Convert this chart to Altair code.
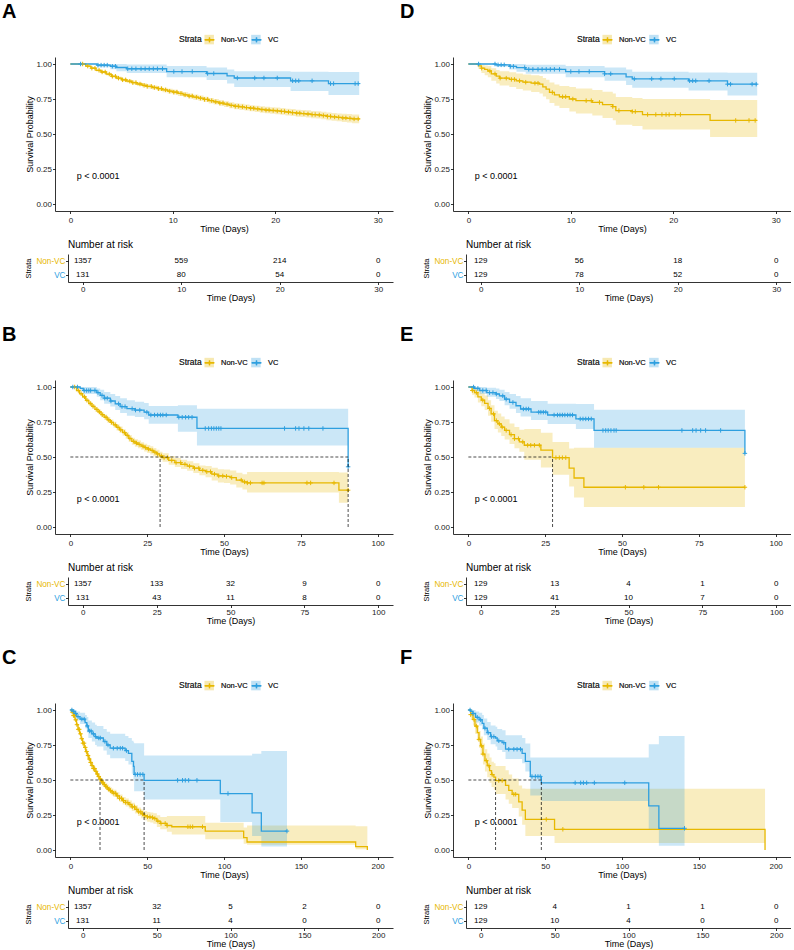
import altair as alt
import pandas as pd

FONT = "Liberation Sans"
YEL = "#E7B800"
BLU = "#2E9FDF"
GROUPS = ["Non-VC", "VC"]
PLUS = "M-1,0L1,0M0,-1L0,1"
KEY = "M-1,0L1,0M0,-0.5L0,0.5"

PLOT_W = 338
PLOT_H = 154
TAB_ROWS_H = 28
TAB_GAP = 55

# ---------------- data ----------------
TICKS_28 = [0, 10, 20, 30]
TICKS_90 = [0, 25, 50, 75, 100]
TICKS_ALL = [0, 50, 100, 150, 200]

# Panel A
A_NV_T = [0, 1, 1.5, 2, 2.5, 3, 3.5, 4, 4.5, 5, 5.5, 6, 6.5, 7, 7.5, 8, 8.5, 9, 9.5, 10, 10.5, 11, 11.5, 12, 12.5, 13, 13.5, 14, 14.5, 15, 15.5, 16, 16.5, 17, 17.5, 18, 18.5, 19, 19.5, 20, 20.5, 21, 21.5, 22, 22.5, 23, 23.5, 24, 24.5, 25, 25.5, 26, 26.5, 27, 27.5, 28.2]
A_NV_S = [1, 1, .985, .970, .955, .943, .928, .912, .899, .887, .877, .867, .857, .848, .840, .832, .824, .815, .806, .799, .790, .780, .771, .763, .756, .747, .738, .730, .721, .713, .705, .698, .694, .689, .684, .680, .675, .671, .668, .665, .661, .657, .653, .649, .646, .643, .639, .636, .632, .626, .622, .619, .615, .612, .608, .603]
A_NV_LO = [1, 1, .981, .964, .947, .934, .918, .901, .887, .875, .864, .854, .843, .834, .825, .817, .808, .799, .789, .782, .772, .762, .753, .744, .737, .728, .718, .710, .701, .692, .684, .677, .672, .667, .662, .658, .652, .648, .645, .641, .637, .633, .628, .624, .621, .617, .613, .610, .605, .599, .594, .591, .586, .582, .577, .571]
A_NV_HI = [1, 1, .989, .976, .963, .952, .938, .923, .911, .899, .890, .880, .871, .862, .855, .847, .840, .831, .823, .816, .808, .798, .789, .782, .775, .766, .758, .750, .741, .734, .726, .719, .716, .711, .706, .702, .698, .694, .691, .689, .685, .681, .678, .674, .671, .669, .665, .662, .659, .653, .650, .647, .644, .642, .639, .635]
A_NV_CENS = [1.2, 1.7, 2.1, 2.4, 2.8, 3.1, 3.4, 3.8, 4.1, 4.4, 4.7, 5.1, 5.4, 5.8, 6.1, 6.4, 6.8, 7.2, 7.5, 7.9, 8.2, 8.6, 8.9, 9.3, 9.7, 10.1, 10.4, 10.8, 11.2, 11.6, 11.9, 12.3, 12.7, 13.1, 13.4, 13.8, 14.2, 14.6, 14.9, 15.3, 15.7, 16.1, 16.4, 16.8, 17.2, 17.6, 17.9, 18.3, 18.7, 19.1, 19.4, 19.8, 20.2, 20.6, 20.9, 21.3, 21.7, 22.1, 22.4, 22.8, 23.2, 23.6, 23.9, 24.3, 24.7, 25.1, 25.4, 25.8, 26.2, 26.6, 26.9, 27.3, 27.7, 28.1]
A_VC_T = [0, 2.6, 3.9, 4.5, 5.5, 9.4, 13.3, 15.3, 16.0, 21.5, 25.2, 28.2]
A_VC_S = [1, .992, .984, .975, .966, .946, .932, .915, .900, .880, .860, .860]
A_VC_LO = [1, .977, .962, .948, .935, .905, .885, .86, .835, .807, .779, .779]
A_VC_HI = [1, 1, 1, 1, .997, .985, .975, .96, .948, .945, .943, .943]
A_VC_CENS = [1.0, 2.7, 3.0, 3.3, 3.6, 4.1, 4.4, 5.6, 6.0, 6.4, 6.9, 7.3, 7.7, 8.1, 8.5, 9.0, 10.1, 10.9, 11.9, 13.4, 14.0, 16.3, 18.0, 18.9, 20.2, 21.7, 22.0, 22.3, 23.6, 25.4, 25.7, 27.8, 28.1]
A_MED = []
A_RISK_NV = [1357, 559, 214, 0]
A_RISK_VC = [131, 80, 54, 0]

# Panel B
B_NV_T = [0, 1, 2, 3, 4, 5, 6, 7, 8, 9, 10, 11, 12, 13, 14, 15, 16, 17, 18, 19, 20, 21, 22, 23, 24, 25, 26, 27, 28, 29, 30, 32, 34, 36, 38, 40, 42, 44, 46, 48, 50, 52, 54, 56, 57.5, 87.4, 90.4]
B_NV_S = [1, 1, .975, .952, .93, .905, .882, .862, .84, .822, .802, .784, .765, .748, .73, .712, .694, .675, .655, .632, .612, .600, .59, .578, .567, .557, .547, .535, .522, .508, .496, .476, .46, .448, .435, .42, .405, .395, .378, .365, .362, .353, .335, .322, .315, .263, .263]
B_NV_LO = [1, 1, .969, .943, .919, .892, .868, .847, .824, .805, .784, .765, .745, .728, .709, .690, .671, .651, .631, .607, .587, .574, .563, .551, .539, .529, .518, .506, .493, .478, .466, .445, .428, .415, .401, .385, .370, .355, .333, .318, .314, .303, .283, .267, .246, .173, .173]
B_NV_HI = [1, 1, .981, .961, .941, .918, .896, .877, .856, .839, .820, .803, .785, .768, .751, .734, .717, .699, .679, .657, .637, .626, .617, .605, .595, .585, .576, .564, .551, .538, .526, .507, .492, .481, .469, .455, .440, .435, .423, .412, .41, .403, .387, .377, .393, .39, .39]
B_NV_CENS = [1.4, 2.6, 3.5, 4.6, 5.4, 6.5, 7.4, 8.6, 9.5, 10.4, 11.6, 12.5, 13.4, 14.6, 15.5, 16.4, 17.6, 18.5, 19.4, 20.6, 21.5, 22.4, 23.6, 24.5, 25.4, 26.6, 27.5, 28.4, 29.6, 30.5, 31.6, 33.0, 34.4, 35.9, 37.3, 38.8, 40.4, 41.8, 43.1, 44.4, 45.6, 46.9, 48.3, 49.6, 50.8, 52.5, 55.6, 56.7, 57.6, 58.6, 62.4, 63.0, 77.0, 78.2, 85.8, 90.4]
B_VC_T = [0, 3.2, 4.2, 8.6, 9.7, 11.0, 13.0, 14.6, 16.2, 18.4, 21.0, 24.0, 25.5, 35.0, 41.2, 90.4]
B_VC_S = [1, .99, .975, .96, .94, .92, .90, .88, .86, .845, .835, .82, .80, .784, .704, .43]
B_VC_LO = [1, .97, .95, .93, .905, .88, .86, .835, .815, .795, .785, .77, .737, .68, .583, .43]
B_VC_HI = [1, 1, 1, .99, .98, .965, .95, .935, .92, .905, .895, .885, .865, .87, .845, .43]
B_VC_CENS = [0.8, 2.3, 4.5, 5.3, 6.0, 6.6, 8.0, 9.0, 10.3, 11.2, 12.0, 13.2, 15.7, 16.8, 17.8, 20.1, 21.2, 22.6, 24.9, 26.2, 27.4, 28.4, 29.3, 30.1, 31.2, 35.3, 36.4, 37.5, 38.5, 39.6, 43.9, 45.0, 45.9, 46.7, 47.5, 48.3, 49.0, 69.7, 73.3, 74.4, 76.0, 77.6, 82.2, 90.4]
B_MED = [29.2, 90.4]
B_RISK_NV = [1357, 133, 32, 9, 0]
B_RISK_VC = [131, 43, 11, 8, 0]

# Panel C
C_NV_T = [0, 0.5, 1, 2, 3, 4, 5, 6, 7, 8, 9, 10, 11, 12, 13, 14, 15, 16, 17, 18, 19, 20, 21, 22, 23, 24, 25, 26, 27, 28, 30, 32, 34, 36, 38, 40, 42, 44, 46, 48, 50, 52, 54, 56.3, 58.5, 62.8, 66, 87.8, 112.8, 115, 185.7, 193.3]
C_NV_S = [1, 1, .985, .96, .93, .895, .862, .83, .795, .763, .733, .703, .675, .65, .625, .603, .582, .562, .543, .525, .507, .492, .479, .467, .455, .444, .434, .424, .415, .405, .386, .369, .352, .339, .325, .308, .29, .273, .258, .245, .237, .232, .225, .206, .19, .175, .166, .135, .088, .057, .024, 0]
C_NV_LO = [1, 1, .98, .952, .92, .883, .848, .815, .779, .746, .715, .685, .656, .63, .604, .582, .56, .54, .52, .503, .485, .47, .456, .444, .431, .42, .41, .399, .39, .379, .36, .342, .325, .311, .296, .279, .26, .243, .227, .212, .202, .196, .188, .165, .148, .13, .111, .076, .045, .038, .005, 0]
C_NV_HI = [1, 1, .99, .968, .94, .907, .876, .845, .811, .78, .751, .721, .694, .67, .646, .624, .604, .584, .566, .547, .529, .514, .502, .49, .479, .468, .458, .449, .44, .431, .412, .396, .379, .367, .354, .337, .32, .303, .289, .278, .272, .268, .262, .248, .235, .242, .242, .194, .16, .175, .17, 0]
C_NV_CENS = [1.2, 2.0, 2.7, 3.5, 4.3, 5.1, 5.8, 6.6, 7.4, 8.2, 8.9, 9.7, 10.6, 11.5, 12.3, 13.2, 14.1, 15.0, 15.8, 16.7, 17.6, 18.5, 19.4, 20.3, 21.2, 22.1, 23.1, 24.0, 25.0, 26.1, 27.2, 28.3, 29.5, 30.8, 32.0, 33.3, 34.6, 36.0, 37.4, 38.8, 40.3, 41.8, 43.2, 44.5, 45.8, 47.0, 48.5, 50.2, 51.8, 53.5, 55.0, 57.0, 59.0, 61.7, 63.0, 76.5, 78.0, 79.6, 86.0]
C_VC_T = [0, 1.5, 3.0, 4.1, 6.3, 9.6, 10.7, 11.7, 14.0, 16.1, 17.2, 21.5, 23.7, 25.9, 35.7, 37.8, 40.0, 41.1, 41.5, 48.0, 97.6, 118.3, 124.3, 141.0]
C_VC_S = [1, .99, .975, .953, .935, .91, .886, .85, .83, .81, .80, .775, .75, .727, .71, .69, .633, .597, .54, .498, .403, .265, .135, .135]
C_VC_LO = [1, .975, .955, .925, .90, .87, .84, .80, .775, .75, .74, .71, .68, .655, .635, .61, .545, .505, .42, .36, .20, .10, .025, .025]
C_VC_HI = [1, 1, 1, .99, .98, .965, .95, .925, .91, .895, .885, .865, .845, .83, .815, .80, .78, .77, .763, .675, .675, .687, .708, .708]
C_VC_CENS = [1.0, 2.2, 3.5, 5.0, 7.5, 9.0, 11.0, 12.5, 13.5, 15.0, 16.5, 18.5, 19.5, 22.5, 24.5, 28.0, 30.5, 32.5, 34.0, 36.5, 42.2, 43.7, 45.4, 47.2, 69.8, 73.0, 74.8, 77.0, 82.4, 102.6, 141.0]
C_MED = [19.3, 48.0]
C_RISK_NV = [1357, 32, 5, 2, 0]
C_RISK_VC = [131, 11, 4, 0, 0]

# Panel D
D_NV_T = [0, 0.97, 1.27, 1.59, 1.9, 2.24, 2.72, 3.05, 4.0, 4.67, 5.32, 6.13, 6.94, 7.27, 7.59, 7.92, 8.4, 8.89, 9.86, 10.5, 12.1, 13.1, 14.1, 14.4, 16.0, 17.0, 23.6, 28.2]
D_NV_S = [1, .986, .970, .962, .95, .93, .913, .899, .89, .88, .87, .863, .856, .837, .82, .797, .78, .766, .75, .738, .726, .71, .696, .667, .66, .639, .597, .597]
D_NV_LO = [1, .966, .935, .92, .905, .88, .86, .847, .835, .822, .81, .80, .79, .768, .748, .722, .702, .686, .66, .647, .632, .614, .598, .566, .557, .533, .479, .479]
D_NV_HI = [1, 1, .995, .99, .985, .97, .958, .948, .941, .933, .925, .92, .915, .90, .887, .868, .853, .842, .835, .825, .815, .802, .79, .765, .758, .75, .742, .742]
D_NV_CENS = [1.3, 2.1, 2.6, 3.1, 3.7, 4.2, 4.5, 5.0, 5.6, 6.5, 6.8, 8.2, 9.2, 9.5, 10.2, 11.5, 12.0, 12.8, 14.1, 14.7, 16.0, 16.3, 17.5, 18.3, 18.9, 19.3, 19.6, 20.2, 20.7, 26.1, 27.4, 28.0]
D_VC_T = [0, 2.7, 4.0, 4.7, 5.6, 9.5, 13.3, 15.4, 16.0, 21.5, 25.3, 28.2]
D_VC_S = [1, .994, .983, .974, .962, .946, .93, .908, .894, .88, .856, .856]
D_VC_LO = [1, .98, .96, .945, .93, .905, .88, .85, .83, .81, .775, .775]
D_VC_HI = [1, 1, 1, 1, .995, .985, .975, .96, .945, .94, .938, .938]
D_VC_CENS = [1.0, 2.6, 2.9, 3.2, 3.5, 4.1, 4.4, 5.5, 5.9, 6.3, 6.8, 7.2, 7.6, 8.0, 8.4, 8.9, 10.0, 10.8, 11.8, 13.3, 13.9, 16.2, 17.9, 18.8, 20.1, 21.6, 21.9, 22.2, 23.5, 25.3, 25.6, 27.7, 28.1]
D_MED = []
D_RISK_NV = [129, 56, 18, 0]
D_RISK_VC = [129, 78, 52, 0]

# Panel E
E_NV_T = [0, 1.2, 2.0, 3.1, 4.2, 5.3, 6.4, 7.4, 8.5, 9.6, 10.7, 11.8, 13.4, 15.0, 16.6, 18.2, 23.6, 27.4, 32.8, 34.4, 37.6, 90.0]
E_NV_S = [1, .975, .96, .93, .906, .883, .847, .808, .76, .737, .714, .69, .66, .631, .608, .584, .549, .495, .42, .35, .284, .284]
E_NV_LO = [1, .945, .925, .89, .862, .835, .795, .752, .70, .675, .65, .625, .592, .562, .537, .48, .425, .373, .29, .21, .143, .143]
E_NV_HI = [1, 1, .995, .975, .955, .94, .905, .87, .83, .81, .79, .77, .74, .715, .695, .70, .674, .608, .56, .566, .566, .566]
E_NV_CENS = [1.3, 2.6, 4.7, 6.9, 8.2, 9.1, 10.1, 11.0, 12.3, 13.9, 15.0, 16.3, 17.7, 19.3, 20.3, 21.5, 23.1, 28.5, 29.6, 30.6, 31.7, 51.1, 57.1, 61.9, 90.0]
E_VC_T = [0, 2.0, 3.7, 6.0, 9.0, 10.1, 11.8, 13.4, 15.5, 17.0, 20.4, 25.8, 35.0, 40.9, 90.0]
E_VC_S = [1, .99, .975, .96, .95, .937, .913, .89, .866, .843, .82, .80, .772, .69, .526]
E_VC_LO = [1, .97, .95, .93, .915, .90, .87, .845, .815, .79, .765, .735, .70, .566, .526]
E_VC_HI = [1, 1, 1, .995, .99, .98, .965, .95, .935, .92, .90, .88, .878, .838, .526]
E_VC_CENS = [1.7, 3.1, 4.7, 5.8, 6.9, 8.0, 9.1, 11.2, 12.3, 14.5, 17.9, 18.8, 19.6, 22.9, 23.6, 24.4, 25.2, 27.9, 29.0, 29.8, 30.6, 31.4, 32.3, 33.1, 33.9, 36.4, 37.3, 38.2, 39.1, 40.0, 43.8, 44.7, 45.5, 46.4, 47.4, 48.1, 69.5, 73.0, 74.1, 75.6, 77.2, 82.1, 90.0]
E_MED = [27.4]
E_RISK_NV = [129, 13, 4, 1, 0]
E_RISK_VC = [129, 41, 10, 7, 0]

# Panel F
F_NV_T = [0, 1.5, 3, 4.3, 5.8, 6.9, 8, 9.5, 10.8, 12.3, 13.8, 15.1, 16.6, 17.7, 24.2, 26.3, 28.5, 32.8, 35, 37.1, 56.1, 193.1]
F_NV_S = [1, .967, .932, .885, .838, .79, .744, .685, .638, .602, .567, .539, .52, .496, .461, .426, .398, .344, .285, .219, .148, 0]
F_NV_LO = [1, .93, .89, .83, .78, .73, .68, .61, .56, .52, .48, .45, .43, .40, .36, .33, .30, .24, .18, .10, .05, 0]
F_NV_HI = [1, .995, .97, .93, .89, .85, .81, .76, .72, .69, .66, .63, .62, .60, .57, .54, .51, .46, .44, .438, .438, 0]
F_NV_CENS = [1.5, 3.7, 5.2, 6.9, 8.6, 9.5, 11.7, 13.4, 15.5, 19.8, 22.0, 29.6, 30.8, 50.7, 61.5]
F_VC_T = [0, 1.5, 3, 4.7, 7, 9, 10.1, 12.3, 14.5, 17.7, 18.8, 22, 24.2, 35, 37.1, 40.3, 47.5, 117.4, 124, 140.7]
F_VC_S = [1, .99, .975, .948, .93, .905, .87, .838, .81, .80, .78, .767, .72, .69, .633, .525, .48, .315, .155, .155]
F_VC_LO = [1, .97, .95, .91, .89, .86, .82, .785, .755, .74, .715, .70, .65, .62, .56, .39, .35, .143, .03, .03]
F_VC_HI = [1, 1, 1, .99, .98, .965, .94, .915, .89, .88, .865, .855, .82, .80, .76, .66, .66, .755, .814, .814]
F_VC_CENS = [1.1, 3.0, 5.8, 8.0, 10.8, 12.9, 15.1, 16.6, 19.8, 23.1, 26.3, 29.6, 31.7, 33.9, 41.4, 43.6, 45.3, 46.8, 69.5, 73.1, 74.9, 77.0, 82.0, 101.8, 140.7]
F_MED = [17.7, 47.5]
F_RISK_NV = [129, 4, 1, 1, 0]
F_RISK_VC = [129, 10, 4, 0, 0]

PVAL = "p < 0.0001"

PANELS = {
    "A": dict(xmax=30, ticks=TICKS_28, nv=(A_NV_T, A_NV_S, A_NV_LO, A_NV_HI), nv_cens=A_NV_CENS,
              vc=(A_VC_T, A_VC_S, A_VC_LO, A_VC_HI), vc_cens=A_VC_CENS, med=A_MED, risk_nv=A_RISK_NV, risk_vc=A_RISK_VC),
    "B": dict(xmax=100, ticks=TICKS_90, nv=(B_NV_T, B_NV_S, B_NV_LO, B_NV_HI), nv_cens=B_NV_CENS,
              vc=(B_VC_T, B_VC_S, B_VC_LO, B_VC_HI), vc_cens=B_VC_CENS, med=B_MED, risk_nv=B_RISK_NV, risk_vc=B_RISK_VC),
    "C": dict(xmax=200, ticks=TICKS_ALL, nv=(C_NV_T, C_NV_S, C_NV_LO, C_NV_HI), nv_cens=C_NV_CENS,
              vc=(C_VC_T, C_VC_S, C_VC_LO, C_VC_HI), vc_cens=C_VC_CENS, med=C_MED, risk_nv=C_RISK_NV, risk_vc=C_RISK_VC),
    "D": dict(xmax=30, ticks=TICKS_28, nv=(D_NV_T, D_NV_S, D_NV_LO, D_NV_HI), nv_cens=D_NV_CENS,
              vc=(D_VC_T, D_VC_S, D_VC_LO, D_VC_HI), vc_cens=D_VC_CENS, med=D_MED, risk_nv=D_RISK_NV, risk_vc=D_RISK_VC),
    "E": dict(xmax=100, ticks=TICKS_90, nv=(E_NV_T, E_NV_S, E_NV_LO, E_NV_HI), nv_cens=E_NV_CENS,
              vc=(E_VC_T, E_VC_S, E_VC_LO, E_VC_HI), vc_cens=E_VC_CENS, med=E_MED, risk_nv=E_RISK_NV, risk_vc=E_RISK_VC),
    "F": dict(xmax=200, ticks=TICKS_ALL, nv=(F_NV_T, F_NV_S, F_NV_LO, F_NV_HI), nv_cens=F_NV_CENS,
              vc=(F_VC_T, F_VC_S, F_VC_LO, F_VC_HI), vc_cens=F_VC_CENS, med=F_MED, risk_nv=F_RISK_NV, risk_vc=F_RISK_VC),
}


def step_value(T, S, t):
    v = S[0]
    for ti, si in zip(T, S):
        if ti <= t + 1e-9:
            v = si
        else:
            break
    return v


def make_axis(**kw):
    base = dict(grid=False, domainColor="black", domainWidth=0.8, tickColor="black", tickWidth=0.8,
                tickSize=2.5, labelFont=FONT, labelFontSize=8, labelColor="#1a1a1a", titleFont=FONT,
                titleFontSize=9, titleFontWeight="normal", titleColor="black", labelFlush=False)
    base.update(kw)
    return alt.Axis(**base)


# legend geometry (pixels)
LEG_X = 124
LEG_Y = -23
LEG_TITLE_W = 22.7      # width of "Strata" at 8.5px
LEG_TITLE_PAD = 2
LEG_SYM = 90            # symbol area -> ~9.5px wide
LEG_LABEL_OFF = 6
LEG_LABEL_W = 26.7      # width of "Non-VC" at 7.5px
LEG_COL_PAD = 1
LEG_TEXT = "#333333"


def main_chart(letter, p):
    xmax = p["xmax"]
    xsc = alt.Scale(domain=[-0.05 * xmax, 1.05 * xmax], nice=False, zero=False)
    ysc = alt.Scale(domain=[-0.05, 1.05], nice=False, zero=False)
    csc = alt.Scale(domain=GROUPS, range=[YEL, BLU])
    rows, cens = [], []
    for g, key in (("Non-VC", "nv"), ("VC", "vc")):
        T, S, L, H = p[key]
        for t, s, lo, hi in zip(T, S, L, H):
            rows.append({"t": t, "s": s, "lo": lo, "hi": hi, "g": g, "band": g})
        for c in p[key + "_cens"]:
            cens.append({"t": c, "s": step_value(T, S, c), "g": g})
    curves = pd.DataFrame(rows)
    censd = pd.DataFrame(cens)

    xax = make_axis(values=p["ticks"], title="Time (Days)", labelPadding=3, titlePadding=0)
    yax = make_axis(values=[0, 0.25, 0.5, 0.75, 1], format=".2f", title="Survival Probability",
                    labelPadding=1, titlePadding=1)
    line_leg = alt.Legend(title="Strata", orient="none", legendX=LEG_X, legendY=LEG_Y, direction="horizontal",
                          titleOrient="left", titleFont=FONT, titleFontSize=8.5, titleFontWeight="normal",
                          titleColor=LEG_TEXT, titlePadding=LEG_TITLE_PAD, labelFont=FONT, labelFontSize=7.5,
                          labelFontWeight="normal", labelColor=LEG_TEXT, symbolSize=LEG_SYM,
                          labelOffset=LEG_LABEL_OFF, columnPadding=LEG_COL_PAD, padding=0, symbolType=KEY,
                          symbolStrokeWidth=1.3)
    band_leg = alt.Legend(title=None, orient="none", legendX=LEG_X + LEG_TITLE_W + LEG_TITLE_PAD, legendY=LEG_Y,
                          direction="horizontal", labelExpr="''", labelFontSize=7.5,
                          symbolSize=LEG_SYM, labelOffset=LEG_LABEL_OFF,
                          columnPadding=LEG_LABEL_W + LEG_COL_PAD, padding=0, symbolType="square",
                          symbolOpacity=0.3, symbolStrokeWidth=1.3, symbolStrokeColor="transparent")

    def X(field):
        return alt.X(field, scale=xsc, axis=xax, title="Time (Days)")

    def Y(field):
        return alt.Y(field, scale=ysc, axis=yax, title="Survival Probability")

    def COL():
        return alt.Color("g:N", scale=csc, legend=line_leg, title="Strata")

    base = alt.Chart(curves)
    band = base.mark_area(interpolate="step-after", opacity=0.25).encode(
        x=X("t:Q"), y=Y("lo:Q"), y2="hi:Q",
        fill=alt.Fill("band:N", scale=csc, legend=band_leg))
    line = base.mark_line(interpolate="step-after", strokeWidth=1.3).encode(
        x=X("t:Q"), y=Y("s:Q"), color=COL())
    pts = alt.Chart(censd).mark_point(shape=PLUS, size=20, strokeWidth=1, filled=False, opacity=1).encode(
        x=X("t:Q"), y=Y("s:Q"), color=COL())
    layers = [band, line, pts]
    if p["med"]:
        n = len(p["med"])
        vdf = pd.DataFrame({"t": p["med"], "y0": [0.0] * n, "y1": [0.5] * n})
        hdf = pd.DataFrame({"x0": [0.0], "x1": [max(p["med"])], "y": [0.5]})
        vr = alt.Chart(vdf).mark_rule(color="black", strokeDash=[3, 2], strokeWidth=0.7).encode(
            x=X("t:Q"), y=Y("y0:Q"), y2="y1:Q")
        hr = alt.Chart(hdf).mark_rule(color="black", strokeDash=[3, 2], strokeWidth=0.7).encode(
            x=X("x0:Q"), x2="x1:Q", y=Y("y:Q"))
        layers += [hr, vr]
    pdf = pd.DataFrame({"t": [0.021 * xmax], "s": [0.2], "txt": [PVAL]})
    ptxt = alt.Chart(pdf).mark_text(align="left", baseline="middle", font=FONT, fontSize=9, color="black").encode(
        x=X("t:Q"), y=Y("s:Q"), text="txt:N")
    layers.append(ptxt)
    return alt.layer(*layers).resolve_scale(fill="independent", color="independent").properties(
        width=PLOT_W, height=PLOT_H,
        title=alt.TitleParams(letter, anchor="start", frame="group", fontSize=20, fontWeight="bold",
                              font=FONT, color="black", dx=-53, offset=12.5),
    )


def table_chart(p):
    xmax = p["xmax"]
    rows = []
    for g, key in (("Non-VC", "risk_nv"), ("VC", "risk_vc")):
        for t, n in zip(p["ticks"], p[key]):
            rows.append({"t": t, "g": g, "n": str(n)})
    xsc = alt.Scale(domain=[-0.05 * xmax, 1.05 * xmax], range=[13, PLOT_W], nice=False, zero=False)
    ysc = alt.Scale(domain=GROUPS, range=[0, TAB_ROWS_H], paddingInner=0, paddingOuter=0)
    xax = make_axis(values=p["ticks"], title="Time (Days)", offset=-TAB_GAP, labelPadding=0.5, titlePadding=0)
    yax = make_axis(title="Strata", offset=-13, labelFontSize=8.2, titleFontSize=7.5, labelPadding=0.5,
                    titlePadding=3,
                    labelColor={"condition": {"test": "datum.value === 'VC'", "value": BLU}, "value": YEL})
    ch = alt.Chart(pd.DataFrame(rows)).mark_text(font=FONT, fontSize=8, color="black").encode(
        x=alt.X("t:Q", scale=xsc, axis=xax),
        y=alt.Y("g:N", scale=ysc, axis=yax),
        text="n:N",
    )
    return ch.properties(
        width=PLOT_W, height=TAB_ROWS_H + TAB_GAP,
        title=alt.TitleParams("Number at risk", anchor="start", frame="group", dx=13, fontSize=10,
                              fontWeight="normal", font=FONT, color="black", offset=4),
    )


order = []
for left, right in (("A", "D"), ("B", "E"), ("C", "F")):
    order.append(main_chart(left, PANELS[left]))
    order.append(main_chart(right, PANELS[right]))
    order.append(table_chart(PANELS[left]))
    order.append(table_chart(PANELS[right]))

chart = alt.concat(*order, columns=2, spacing={"row": 43, "column": 60}, bounds="flush", align="each").resolve_scale(
    color="independent", fill="independent", x="independent", y="independent"
).properties(
    padding={"left": 2, "top": 1, "right": 0, "bottom": 0}, background="white"
).configure_view(stroke=None)

chart.save("out.html", embed_options={"renderer": "svg", "actions": False})
